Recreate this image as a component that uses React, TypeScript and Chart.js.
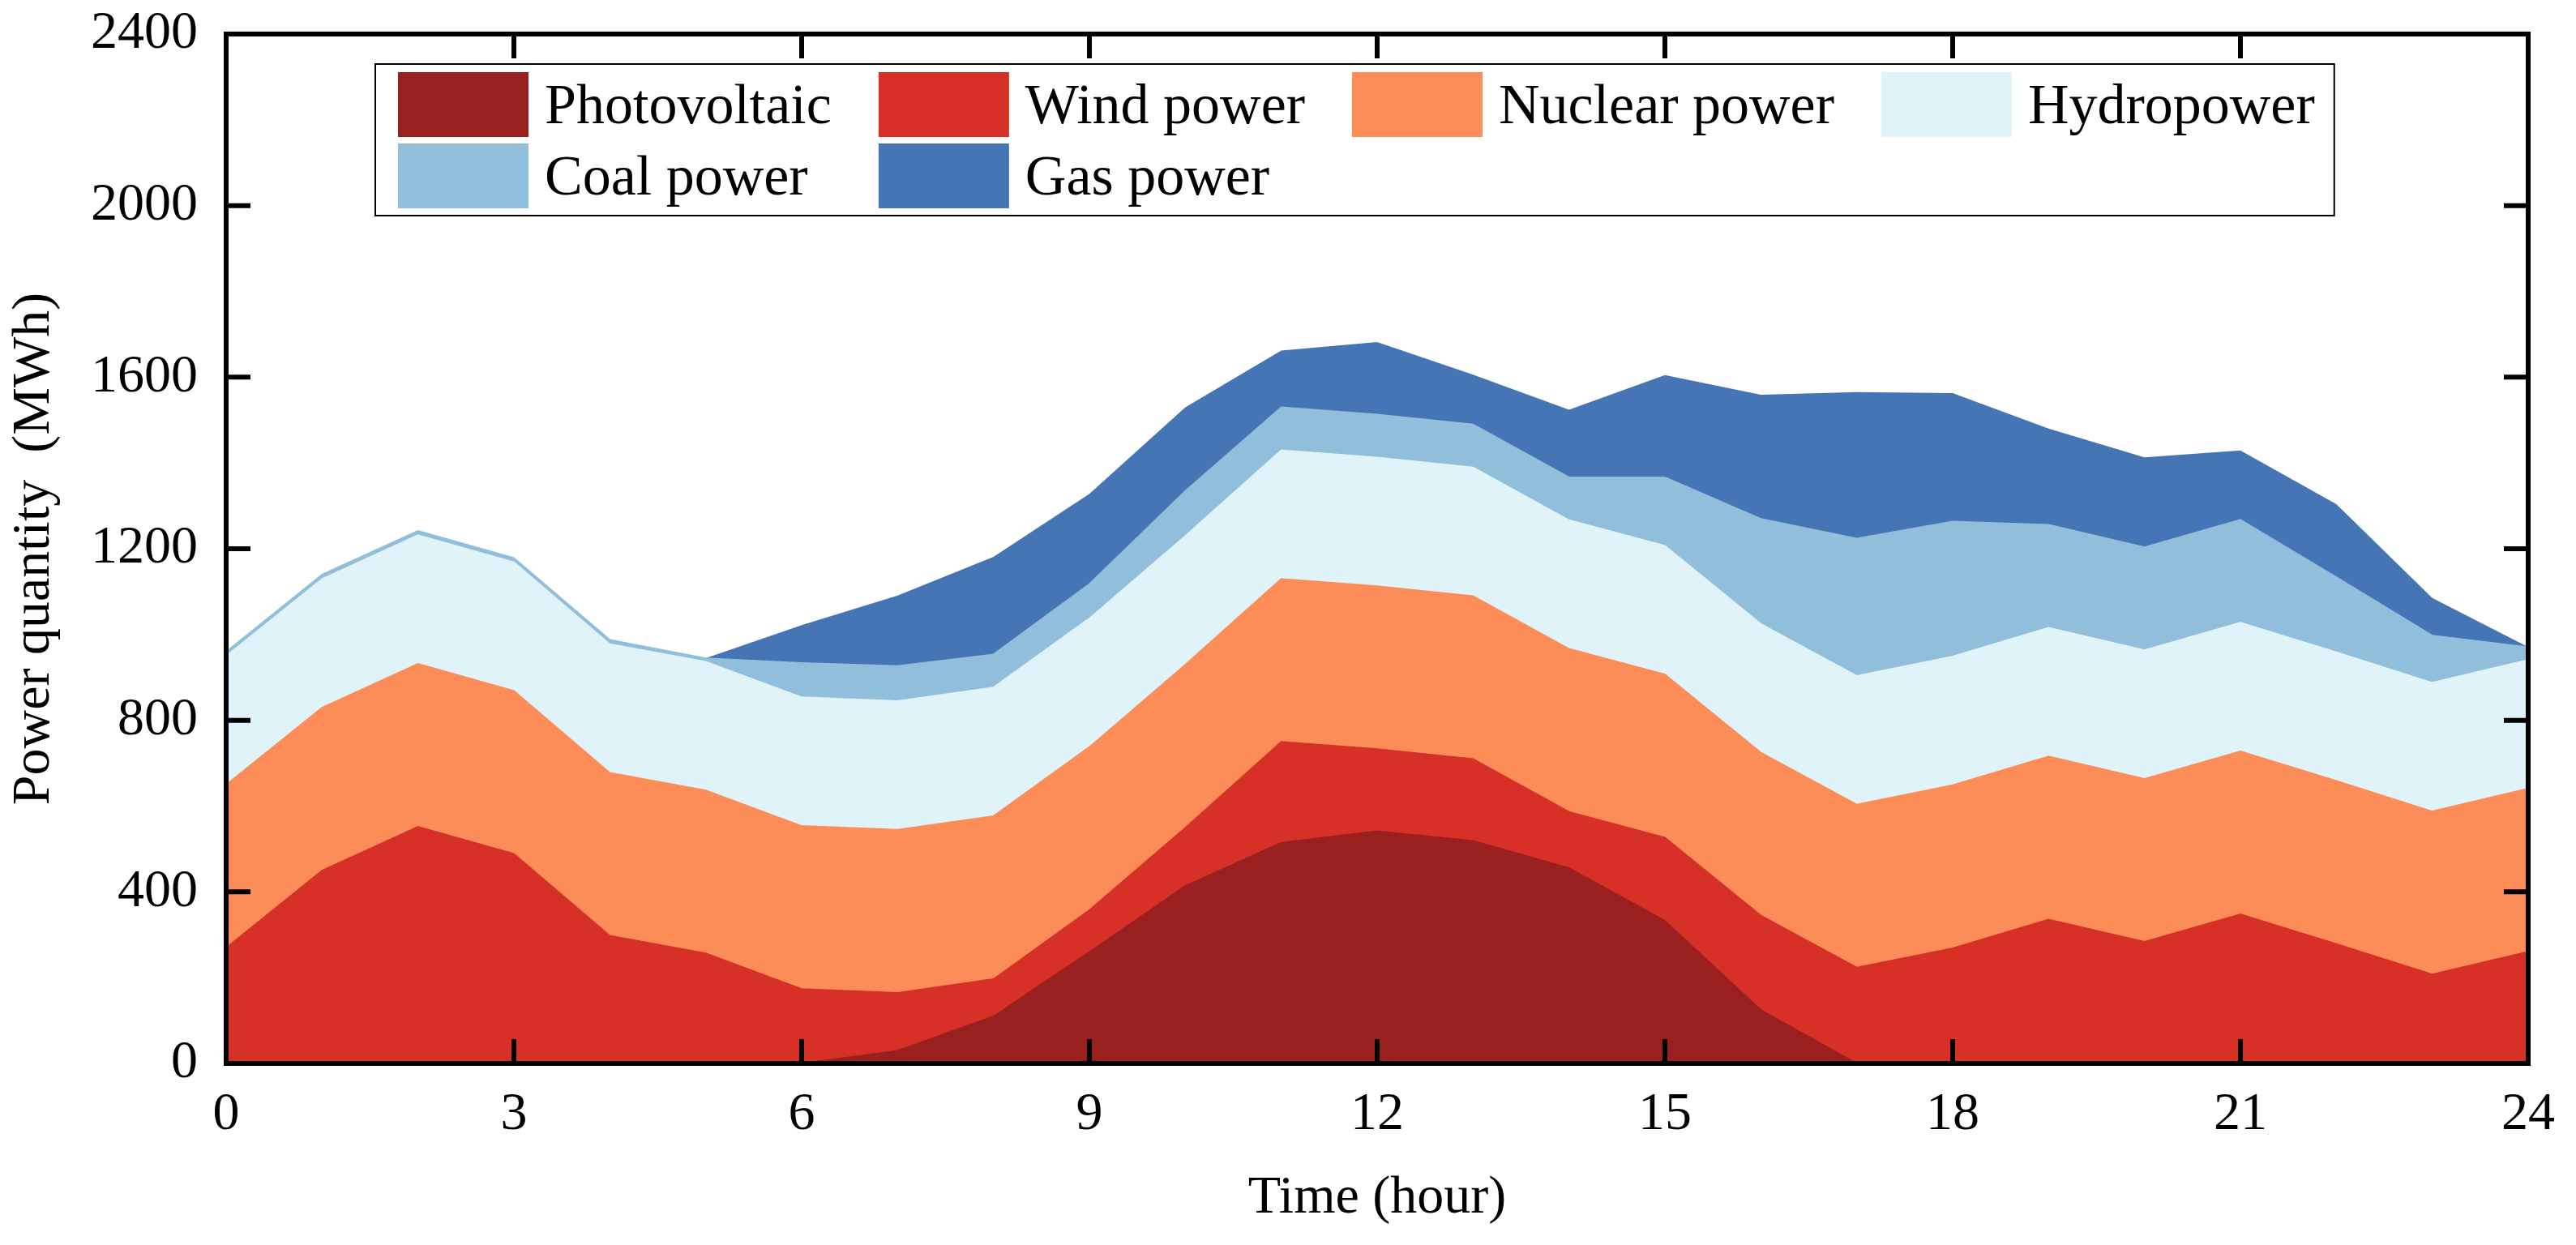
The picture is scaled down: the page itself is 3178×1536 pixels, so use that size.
import React, { useEffect, useRef } from 'react';
import { Chart, registerables } from 'chart.js';

Chart.register(...registerables);

// ---------- data ----------
const hours = [0, 1, 2, 3, 4, 5, 6, 7, 8, 9, 10, 11, 12, 13, 14, 15, 16, 17, 18, 19, 20, 21, 22, 23, 24];
const photovoltaic = [0, 0, 0, 0, 0, 0, 0, 30, 110, 260, 414, 515, 542, 519, 456, 333, 125, 0, 0, 0, 0, 0, 0, 0, 0];
const windPower = [270, 450, 552, 489, 298, 257, 174, 135, 87, 98, 136, 235, 191, 191, 131, 194, 220, 224, 269, 336, 284, 348, 279, 208, 261];
const nuclearPower = [380, 380, 380, 380, 380, 380, 380, 380, 380, 380, 380, 380, 380, 380, 380, 380, 380, 380, 380, 380, 380, 380, 380, 380, 380];
const hydropower = [300, 300, 300, 300, 300, 300, 300, 300, 300, 300, 300, 300, 300, 300, 300, 300, 300, 300, 300, 300, 300, 300, 300, 300, 300];
const coalPower = [10, 10, 10, 10, 10, 8, 80, 82, 77, 80, 105, 100, 100, 100, 100, 160, 245, 320, 315, 240, 240, 240, 175, 110, 30];
const gasPower = [0, 0, 0, 0, 0, 0, 88, 164, 227, 210, 195, 132, 169, 116, 157, 238, 289, 341, 299, 224, 209, 161, 170, 87, 0];

const seriesLabels = ['Photovoltaic', 'Wind power', 'Nuclear power', 'Hydropower', 'Coal power', 'Gas power'];
const seriesColors = ['#9a201f', '#d73027', '#fc8d59', '#e0f3f8', '#91bfdb', '#4575b4'];
const seriesValues = [photovoltaic, windPower, nuclearPower, hydropower, coalPower, gasPower];

const xTickValues = [0, 3, 6, 9, 12, 15, 18, 21, 24];
const yTickValues = [0, 400, 800, 1200, 1600, 2000, 2400];

const xTitle = 'Time (hour)';
const yTitle = 'Power quantity  (MWh)';

const FONT = '"Liberation Serif", "Times New Roman", serif';

// ---------- plugins ----------
const framePlugin = {
  id: 'frameTicks',
  afterDatasetsDraw(chart: any) {
    const { ctx, chartArea: a, scales } = chart;
    const x = scales.x;
    const y = scales.y;
    const tl = 30;
    ctx.save();
    ctx.strokeStyle = '#000';
    ctx.lineWidth = 6;
    ctx.lineCap = 'butt';
    ctx.beginPath();
    x.ticks.forEach((t: any) => {
      const px = x.getPixelForValue(t.value);
      ctx.moveTo(px, a.bottom);
      ctx.lineTo(px, a.bottom - tl);
      ctx.moveTo(px, a.top);
      ctx.lineTo(px, a.top + tl);
    });
    y.ticks.forEach((t: any) => {
      const py = y.getPixelForValue(t.value);
      ctx.moveTo(a.left, py);
      ctx.lineTo(a.left + tl, py);
      ctx.moveTo(a.right, py);
      ctx.lineTo(a.right - tl, py);
    });
    ctx.stroke();
    ctx.lineJoin = 'miter';
    ctx.strokeRect(a.left, a.top, a.right - a.left, a.bottom - a.top);
    ctx.restore();
  },
};

const boxLegendPlugin = {
  id: 'boxLegend',
  afterDraw(chart: any) {
    const { ctx, chartArea: a } = chart;
    const ds = chart.data.datasets;
    const fontSize = 70;
    const cols = 4;
    const swW = 161;
    const swH = 80;
    const textGap = 20;
    const colGap = 58;
    const padL = 28;
    const padR = 24;
    const padT = 10;
    const padB = 9;
    const rowGap = 8;
    ctx.save();
    ctx.font = `${fontSize}px ${FONT}`;
    const rows = Math.ceil(ds.length / cols);
    const colW: number[] = [];
    for (let c = 0; c < cols; c++) {
      let m = 0;
      for (let i = c; i < ds.length; i += cols) {
        m = Math.max(m, swW + textGap + ctx.measureText(ds[i].label).width);
      }
      colW.push(m);
    }
    const boxX = a.left + 184;
    const boxY = a.top + 37;
    const boxW = padL + colW.reduce((s, v) => s + v, 0) + colGap * (cols - 1) + padR;
    const boxH = padT + rows * swH + (rows - 1) * rowGap + padB;
    ctx.fillStyle = '#fff';
    ctx.fillRect(boxX, boxY, boxW, boxH);
    ctx.strokeStyle = '#000';
    ctx.lineWidth = 2;
    ctx.strokeRect(boxX, boxY, boxW, boxH);
    ctx.textAlign = 'left';
    ctx.textBaseline = 'alphabetic';
    ds.forEach((d: any, i: number) => {
      const r = Math.floor(i / cols);
      const c = i % cols;
      let cx = boxX + padL;
      for (let k = 0; k < c; k++) cx += colW[k] + colGap;
      const cy = boxY + padT + r * (swH + rowGap);
      ctx.fillStyle = d.backgroundColor;
      ctx.fillRect(cx, cy, swW, swH);
      ctx.fillStyle = '#000';
      ctx.fillText(d.label, cx + swW + textGap, cy + swH / 2 + fontSize * 0.33);
    });
    ctx.restore();
  },
};

export default function App() {
  const canvasRef = useRef<HTMLCanvasElement | null>(null);

  useEffect(() => {
    document.body.style.margin = '0';
    const canvas = canvasRef.current;
    if (!canvas) return;

    const datasets = seriesValues.map((vals, i) => ({
      label: seriesLabels[i],
      data: hours.map((h, j) => ({ x: h, y: vals[j] })),
      backgroundColor: seriesColors[i],
      borderColor: seriesColors[i],
      borderWidth: i === seriesValues.length - 1 ? 0 : 1.5,
      pointRadius: 0,
      pointHoverRadius: 0,
      tension: 0,
      fill: i === 0 ? 'origin' : '-1',
    }));

    const chart = new Chart(canvas, {
      type: 'line',
      data: { datasets },
      plugins: [framePlugin, boxLegendPlugin],
      options: {
        responsive: false,
        maintainAspectRatio: false,
        devicePixelRatio: 1,
        animation: false,
        layout: { padding: { left: 0, top: 42, right: 59, bottom: 0 } },
        plugins: {
          legend: { display: false },
          tooltip: { enabled: false },
          title: { display: false },
        },
        elements: { line: { borderJoinStyle: 'miter' } },
        scales: {
          x: {
            type: 'linear',
            min: 0,
            max: 24,
            grid: { display: false, drawTicks: false },
            border: { display: false },
            afterBuildTicks: (s: any) => {
              s.ticks = xTickValues.map((v) => ({ value: v }));
            },
            afterFit: (s: any) => {
              s.height = 224;
              s.paddingLeft = 0;
              s.paddingRight = 0;
            },
            ticks: {
              color: '#000',
              padding: 24,
              maxRotation: 0,
              autoSkip: false,
              font: { family: FONT, size: 66 },
              callback: (v: any) => String(v),
            },
            title: {
              display: true,
              text: xTitle,
              color: '#000',
              font: { family: FONT, size: 66 },
              padding: { top: 0, bottom: 18 },
            },
          },
          y: {
            type: 'linear',
            stacked: true,
            min: 0,
            max: 2400,
            grid: { display: false, drawTicks: false },
            border: { display: false },
            afterBuildTicks: (s: any) => {
              s.ticks = yTickValues.map((v) => ({ value: v }));
            },
            afterFit: (s: any) => {
              s.width = 279;
              s.paddingTop = 0;
              s.paddingBottom = 0;
            },
            ticks: {
              color: '#000',
              padding: 35,
              autoSkip: false,
              font: { family: FONT, size: 66 },
              callback: (v: any) => String(v),
            },
            title: {
              display: true,
              text: yTitle,
              color: '#000',
              font: { family: FONT, size: 66 },
              padding: { top: 3, bottom: 0 },
            },
          },
        },
      } as any,
    });

    return () => {
      chart.destroy();
    };
  }, []);

  return (
    <canvas
      ref={canvasRef}
      width={3178}
      height={1536}
      style={{ display: 'block', width: '3178px', height: '1536px' }}
    />
  );
}
